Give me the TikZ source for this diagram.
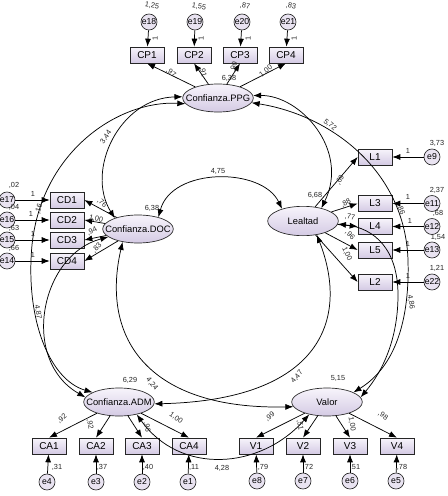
\documentclass[tikz,border=0pt]{standalone}
\usepackage{fontspec}
\setmainfont{Liberation Sans}
\usetikzlibrary{arrows.meta,shapes.geometric}
\definecolor{lavA}{RGB}{247,244,251}
\definecolor{lavB}{RGB}{212,202,228}
\definecolor{lavC}{RGB}{233,227,241}
\begin{document}
\begin{tikzpicture}[x=0.75pt,y=-0.75pt,
 obs/.style={draw=black!85, line width=0.5pt, top color=lavA, bottom color=lavB, minimum width=25.5pt, minimum height=12pt, inner sep=0pt, font=\fontsize{7.5}{8}\selectfont},
 lat/.style={ellipse, draw=black!85, line width=0.5pt, top color=lavA, bottom color=lavB, minimum width=53pt, minimum height=21pt, inner sep=0pt},
 lattext/.style={font=\fontsize{7}{8}\selectfont, inner sep=0pt},
 err/.style={circle, draw=black!85, line width=0.5pt, fill=lavC, minimum size=12pt, inner sep=0pt, font=\fontsize{6.5}{7}\selectfont},
 num/.style={font=\fontsize{5.5}{6}\selectfont, inner sep=0.5pt, text=black!85},
 arr/.style={-{Latex[length=6pt,width=4.5pt]}, line width=0.55pt},
 cov/.style={{Latex[length=6pt,width=4.5pt]}-{Latex[length=6pt,width=4.5pt]}, line width=0.55pt}]
\fill[white] (0,0) rectangle (447,496);
\useasboundingbox (0,0) rectangle (447,496);
% latent variables
\node[lat, label={[lattext]center:Confianza.PPG}] (ppg) at (218,98) {};
\node[lat, label={[lattext]center:Confianza.DOC}] (doc) at (138,229) {};
\node[lat, minimum height=22pt, label={[lattext]center:Lealtad}] (leal) at (303,221) {};
\node[lat, label={[lattext]center:Confianza.ADM}] (adm) at (119,402) {};
\node[lat, label={[lattext]center:Valor}] (valor) at (327,402) {};
% observed: CP
\node[obs] (cp1) at (147,55) {CP1};
\node[obs] (cp2) at (194,55) {CP2};
\node[obs] (cp3) at (240,55) {CP3};
\node[obs] (cp4) at (286,55) {CP4};
\node[err] (e18) at (149,22) {e18};
\node[err] (e19) at (195,22) {e19};
\node[err] (e20) at (242,22) {e20};
\node[err] (e21) at (288,22) {e21};
% CD
\node[obs] (cd1) at (67,200) {CD1};
\node[obs] (cd2) at (67,220) {CD2};
\node[obs] (cd3) at (67,240) {CD3};
\node[obs] (cd4) at (67,261) {CD4};
\node[err] (e17) at (7,200) {e17};
\node[err] (e16) at (7,220) {e16};
\node[err] (e15) at (7,240) {e15};
\node[err] (e14) at (7,261) {e14};
% L
\node[obs] (l1) at (375,157) {L1};
\node[obs] (l3) at (375,203.5) {L3};
\node[obs] (l4) at (375,226.5) {L4};
\node[obs] (l5) at (375,250) {L5};
\node[obs] (l2) at (375,282) {L2};
\node[err] (e9) at (432,157) {e9};
\node[err] (e11) at (432,203.5) {e11};
\node[err] (e12) at (432,226.5) {e12};
\node[err] (e13) at (432,250) {e13};
\node[err] (e22) at (432,282) {e22};
% CA
\node[obs] (ca1) at (49,446) {CA1};
\node[obs] (ca2) at (96,446) {CA2};
\node[obs] (ca3) at (142,446) {CA3};
\node[obs] (ca4) at (189,446) {CA4};
\node[err] (e4) at (47,482) {e4};
\node[err] (e3) at (96,482) {e3};
\node[err] (e2) at (142,482) {e2};
\node[err] (e1) at (188,482) {e1};
% V
\node[obs] (v1) at (256,446) {V1};
\node[obs] (v2) at (303,446) {V2};
\node[obs] (v3) at (350,446) {V3};
\node[obs] (v4) at (397,446) {V4};
\node[err] (e8) at (257,481) {e8};
\node[err] (e7) at (303,481) {e7};
\node[err] (e6) at (350,481) {e6};
\node[err] (e5) at (396,481) {e5};
% error arrows
\foreach \e/\o in {e18/cp1,e19/cp2,e20/cp3,e21/cp4,e17/cd1,e16/cd2,e15/cd3,e14/cd4,e9/l1,e11/l3,e12/l4,e13/l5,e22/l2,e4/ca1,e3/ca2,e2/ca3,e1/ca4,e8/v1,e7/v2,e6/v3,e5/v4}
  \draw[arr] (\e) -- (\o);
% loadings
\foreach \o in {cp1,cp2,cp3,cp4} \draw[arr] (ppg) -- (\o.south);
\foreach \o in {cd1,cd2,cd3,cd4} \draw[arr] (doc) -- (\o.east);
\foreach \o in {l1,l3,l4,l5,l2} \draw[arr] (leal) -- (\o.west);
\foreach \o in {ca1,ca2,ca3,ca4} \draw[arr] (adm) -- (\o.north);
\foreach \o in {v1,v2,v3,v4} \draw[arr] (valor) -- (\o.north);
% covariances
\draw[cov] (doc.30) .. controls (172,167) and (262,167) .. (leal.150);
\draw[cov] (ppg.178) .. controls (120,98) and (85,170) .. (doc.155);
\draw[cov] (ppg.190) .. controls (120,100) and (42,150) .. (32,245) .. controls (25,320) and (50,380) .. (adm.160);
\draw[cov] (doc.195) .. controls (40,255) and (20,360) .. (adm.172);
\draw[cov] (ppg.4) .. controls (300,95) and (350,150) .. (leal.35);
\draw[cov] (ppg.-8) .. controls (330,115) and (405,170) .. (408,260) .. controls (410,330) and (390,370) .. (valor.20);
\draw[cov] (leal.-5) .. controls (375,228) and (398,250) .. (398,295) .. controls (398,340) and (382,372) .. (valor.8);
\draw[cov] (doc.-140) .. controls (100,340) and (150,410) .. (valor.188);
\draw[cov] (leal.-45) .. controls (350,320) and (320,400) .. (adm.-3);
\draw[cov] (adm.-35) .. controls (180,475) and (260,470) .. (valor.-145);
% numbers: top
\node[num,rotate=-10] (n1) at (152,6) {1,25};
\node[num,rotate=-10] (n2) at (199,7) {1,55};
\node[num,rotate=-10] (n3) at (245,6) {,87};
\node[num,rotate=-10] (n4) at (291,6) {,83};
\node[num,rotate=90] (n5) at (155,38) {1};
\node[num,rotate=90] (n6) at (201,38) {1};
\node[num,rotate=90] (n7) at (248,38) {1};
\node[num,rotate=90] (n8) at (294,38) {1};
\node[num,rotate=-35] (n9) at (171,73) {,97};
\node[num,rotate=-75] (n10) at (203,72) {,91};
\node[num,rotate=75] (n11) at (234,67) {,90};
\node[num] (n12) at (229,78) {6,38};
\node[num,rotate=38] (n13) at (266,71) {1,00};
% left
\node[num] (n14) at (14,185) {,02};
\node[num] (n15) at (14,207) {,04};
\node[num] (n16) at (14,228) {,63};
\node[num] (n17) at (14,248) {,66};
\node[num] (n18) at (33,194) {1};
\node[num] (n19) at (31,214) {1};
\node[num] (n20) at (33,234) {1};
\node[num] (n21) at (33,255) {1};
\node[num,rotate=-40] (n22) at (102,203) {,76};
\node[num,rotate=-15] (n23) at (96,219) {1,00};
\node[num,rotate=25] (n24) at (92,231) {,94};
\node[num,rotate=45] (n25) at (97,248) {,83};
\node[num] (n26) at (152,208) {6,38};
\node[num] (n27) at (218,171) {4,75};
\node[num,rotate=55] (n28) at (106,137) {3,44};
\node[num,rotate=75] (n29) at (39,209) {,16};
\node[num,rotate=-80] (n30) at (38,312) {4,87};
% right
\node[num] (n31) at (437,143) {3,73};
\node[num] (n32) at (437,190) {2,37};
\node[num] (n33) at (438,213) {,68};
\node[num] (n34) at (438,237) {1,54};
\node[num] (n35) at (437,268) {1,21};
\node[num] (n36) at (408,151) {1};
\node[num] (n37) at (408,197) {1};
\node[num] (n38) at (410,221) {1};
\node[num] (n39) at (408,244) {1};
\node[num] (n40) at (408,276) {1};
\node[num,rotate=60] (n41) at (340,180) {,69};
\node[num,rotate=30] (n42) at (346,203) {,88};
\node[num,rotate=-10] (n43) at (350,217) {,77};
\node[num,rotate=-45] (n44) at (350,235) {,96};
\node[num,rotate=-65] (n45) at (347,254) {1,00};
\node[num] (n46) at (315,195) {6,68};
\node[num,rotate=-40] (n47) at (330,125) {5,72};
\node[num,rotate=-70] (n48) at (401,210) {,86};
\node[num,rotate=-80] (n49) at (411,302) {4,86};
% bottom
\node[num] (n50) at (130,380) {6,29};
\node[num,rotate=-50] (n51) at (152,384) {4,24};
\node[num,rotate=40] (n52) at (62,419) {,92};
\node[num,rotate=-80] (n53) at (90,424) {,92};
\node[num,rotate=-80] (n54) at (147,427) {,96};
\node[num,rotate=-35] (n55) at (176,418) {1,00};
\node[num] (n56) at (57,467) {,31};
\node[num] (n57) at (102,467) {,37};
\node[num] (n58) at (148,467) {,40};
\node[num] (n59) at (194,467) {,11};
\node[num] (n60) at (222,468) {4,28};
\node[num,rotate=50] (n61) at (297,377) {4,47};
\node[num] (n62) at (338,378) {5,15};
\node[num,rotate=40] (n63) at (270,417) {,99};
\node[num,rotate=-80] (n64) at (300,425) {,51};
\node[num,rotate=-80] (n65) at (352,424) {1,00};
\node[num,rotate=-35] (n66) at (383,416) {,98};
\node[num] (n67) at (263,467) {,79};
\node[num] (n68) at (308,467) {,72};
\node[num] (n69) at (355,467) {,51};
\node[num] (n70) at (402,467) {,78};
\end{tikzpicture}
\end{document}
